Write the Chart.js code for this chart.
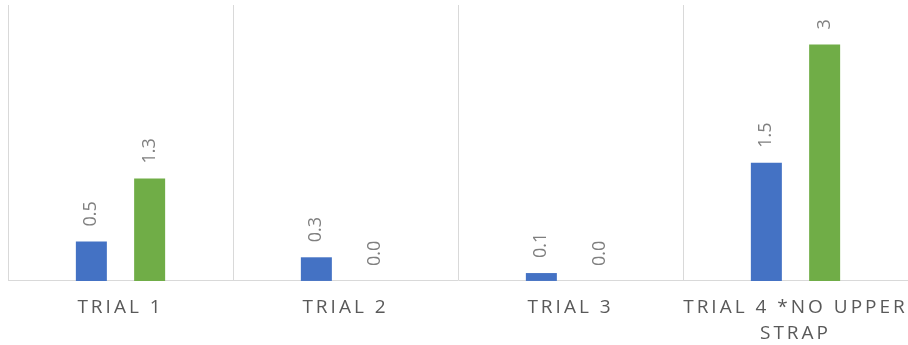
<!DOCTYPE html>
<html>
<head>
<meta charset="utf-8">
<script src="https://cdn.jsdelivr.net/npm/chart.js@4/dist/chart.umd.min.js"></script>
<style>
  html, body { margin: 0; padding: 0; background: #ffffff; }
  #wrap { width: 908px; height: 345px; position: relative; }
</style>
</head>
<body>
<div id="wrap"><canvas id="c"></canvas></div>
<script>
const categories = ['TRIAL 1', 'TRIAL 2', 'TRIAL 3', ['TRIAL 4 *NO UPPER', 'STRAP']];
const seriesBlueValues = [0.5, 0.3, 0.1, 1.5];
const seriesGreenValues = [1.3, 0.0, 0.0, 3];
const seriesBlueLabels = ['0.5', '0.3', '0.1', '1.5'];
const seriesGreenLabels = ['1.3', '0.0', '0.0', '3'];
const yMin = 0;
const yMax = 3.5;

const letterSpacingPlugin = {
  id: 'letterSpacing',
  beforeDraw(chart) { chart.ctx.letterSpacing = '3px'; },
  afterDraw(chart) { chart.ctx.letterSpacing = '0px'; }
};

const valueLabelPlugin = {
  id: 'valueLabels',
  afterDatasetsDraw(chart) {
    const ctx = chart.ctx;
    chart.data.datasets.forEach((ds, di) => {
      const meta = chart.getDatasetMeta(di);
      meta.data.forEach((bar, i) => {
        const text = ds.valueLabels[i];
        ctx.save();
        ctx.letterSpacing = '0px';
        ctx.font = '18px "Open Sans"';
        ctx.fillStyle = '#7f7f7f';
        ctx.translate(bar.x, bar.y - 15);
        ctx.rotate(-Math.PI / 2);
        ctx.textAlign = 'left';
        ctx.textBaseline = 'middle';
        ctx.fillText(text, 0, 0);
        ctx.restore();
      });
    });
  }
};

new Chart(document.getElementById('c'), {
  type: 'bar',
  data: {
    labels: categories,
    datasets: [
      { label: 'Series 1', data: seriesBlueValues, valueLabels: seriesBlueLabels,
        backgroundColor: '#4472C4', categoryPercentage: 0.518, barPercentage: 0.532 },
      { label: 'Series 2', data: seriesGreenValues, valueLabels: seriesGreenLabels,
        backgroundColor: '#70AD47', categoryPercentage: 0.518, barPercentage: 0.532 }
    ]
  },
  options: {
    responsive: true,
    maintainAspectRatio: false,
    animation: false,
    layout: { padding: { left: 8, right: 0, top: 5, bottom: -16 } },
    plugins: { legend: { display: false }, tooltip: { enabled: false } },
    scales: {
      x: {
        grid: {
          display: true,
          drawTicks: false,
          color: (c) => (c.type === 'tick' ? '#d9d9d9' : 'rgba(0,0,0,0)'),
          lineWidth: 1
        },
        border: { display: true, color: '#d9d9d9', width: 1 },
        ticks: {
          color: '#595959',
          font: { family: '"Open Sans"', size: 19, lineHeight: 1.37 },
          padding: 14,
          maxRotation: 0,
          autoSkip: false
        }
      },
      y: {
        display: false,
        min: yMin,
        max: yMax
      }
    }
  },
  plugins: [letterSpacingPlugin, valueLabelPlugin]
});
</script>
</body>
</html>
